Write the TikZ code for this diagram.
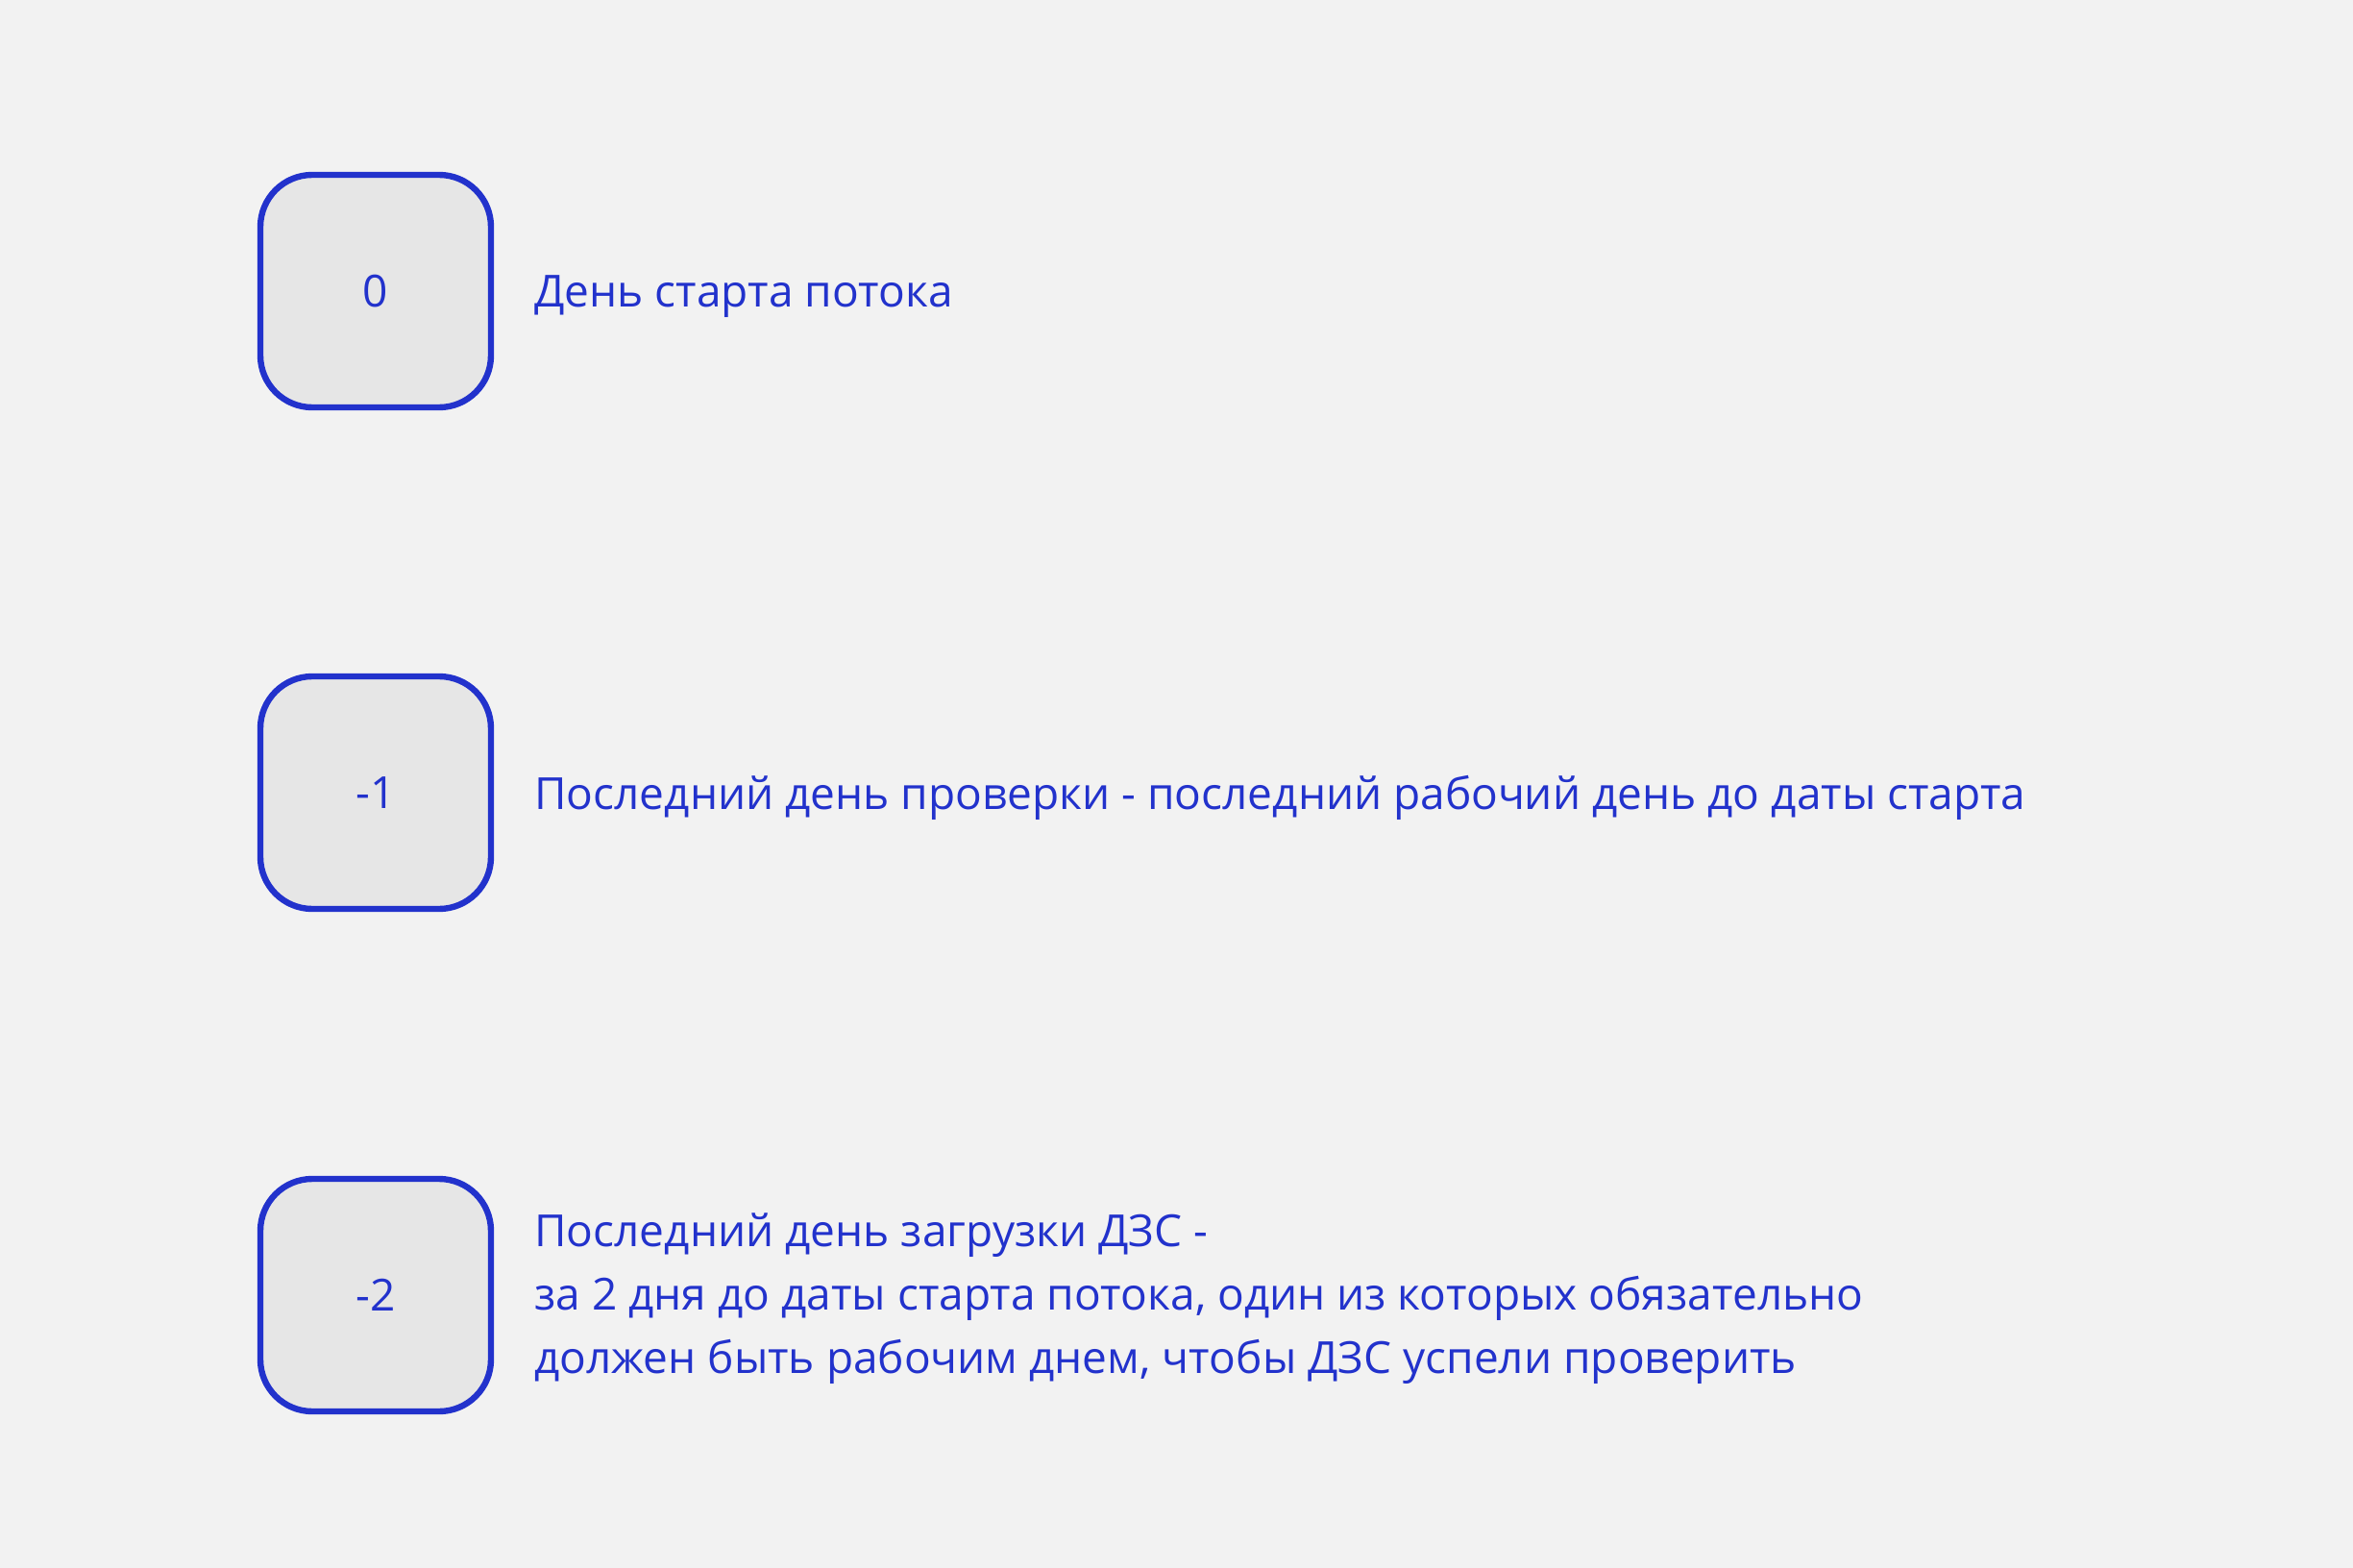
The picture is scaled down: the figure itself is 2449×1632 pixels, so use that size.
\documentclass[tikz,border=0pt]{standalone}
\usepackage{fontspec}
\setmainfont{Open Sans}
\definecolor{bg}{HTML}{F2F2F2}
\definecolor{boxfill}{HTML}{E6E6E6}
\definecolor{ink}{HTML}{2232CC}
\begin{document}
\begin{tikzpicture}[x=0.5pt,y=-0.5pt,
  daybox/.style={draw=ink, fill=boxfill, line width=3.2pt, rounded corners=27pt,
    minimum width=120pt, minimum height=121pt, inner sep=0pt, text=ink,
    font=\fontsize{23pt}{33pt}\selectfont},
  desc/.style={anchor=west, inner sep=0pt, text=ink, align=left,
    font=\fontsize{23pt}{33pt}\selectfont}]
\fill[bg] (0,0) rectangle (2449,1632);
\useasboundingbox (0,0) rectangle (2449,1632);
\node[daybox] (b0) at (391,303) {0};
\node[daybox] (b1) at (391,825) {-1};
\node[daybox] (b2) at (391,1348) {-2};
\node[desc] (t0) at (556,309) {День старта потока};
\node[desc] (t1) at (556,830) {Последний день проверки - последний рабочий день до даты старта};
\node[desc] (t2) at (556,1352) {Последний день загрузки ДЗС -\\за 2 дня до даты старта потока, один из которых обязательно\\должен быть рабочим днем, чтобы ДЗС успели проверить};
\end{tikzpicture}
\end{document}
